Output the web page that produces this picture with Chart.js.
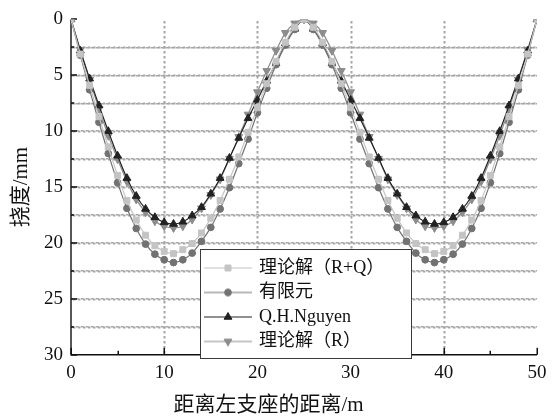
<!DOCTYPE html>
<html>
<head>
<meta charset="utf-8">
<script src="https://cdn.jsdelivr.net/npm/chart.js@4/dist/chart.umd.min.js"></script>
<style>
html,body{margin:0;padding:0;background:#fff;}
#wrap{width:556px;height:418px;}
</style>
</head>
<body>
<div id="wrap"><canvas id="c" width="556" height="418"></canvas></div>
<script>
// ---- data ----
const distance = [0,1,2,3,4,5,6,7,8,9,10,11,12,13,14,15,16,17,18,19,20,21,22,23,24,25,26,27,28,29,30,31,32,33,34,35,36,37,38,39,40,41,42,43,44,45,46,47,48,49,50];
const seriesNames = ['理论解（R+Q）', '有限元', 'Q.H.Nguyen', '理论解（R）'];
const theoryRQ = [0,3.1,5.9,8.7,11.4,13.95,16.2,17.95,19.3,20.25,20.75,20.95,20.6,20.05,19.1,17.8,16.2,14.3,12.3,10.1,7.9,5.75,3.75,2.05,0.7,0,0.7,2.05,3.75,5.75,7.9,10.1,12.3,14.3,16.2,17.8,19.1,20.05,20.6,20.95,20.75,20.25,19.3,17.95,16.2,13.95,11.4,8.7,5.9,3.1,0];
const fem = [0,3.2,6.3,9.2,12.0,14.6,16.9,18.7,20.1,21.0,21.5,21.75,21.5,20.9,19.85,18.6,16.95,15.05,12.9,10.7,8.35,6.15,4.05,2.3,0.9,0,0.9,2.3,4.05,6.15,8.35,10.7,12.9,15.05,16.95,18.6,19.85,20.9,21.5,21.75,21.5,21.0,20.1,18.7,16.9,14.6,12.0,9.2,6.3,3.2,0];
const nguyen = [0,2.8,5.3,7.7,10.0,12.2,14.2,15.8,16.95,17.7,18.15,18.3,18.1,17.55,16.8,15.6,14.2,12.4,10.6,8.85,7.2,5.5,3.9,2.15,0.85,0,0.85,2.15,3.9,5.5,7.2,8.85,10.6,12.4,14.2,15.6,16.8,17.55,18.1,18.3,18.15,17.7,16.95,15.8,14.2,12.2,10.0,7.7,5.3,2.8,0];
const theoryR = [0,2.7,5.4,8.0,10.4,12.5,14.5,16.1,17.25,18.05,18.5,18.65,18.5,17.9,16.9,15.7,14.3,12.45,10.5,8.5,6.5,4.6,2.8,1.2,0.35,0,0.35,1.2,2.8,4.6,6.5,8.5,10.5,12.45,14.3,15.7,16.9,17.9,18.5,18.65,18.5,18.05,17.25,16.1,14.5,12.5,10.4,8.0,5.4,2.7,0];
const xMinorTicks = [0,5,10,15,20,25,30,35,40,45,50];
const yMinorTicks = [0,2.5,5,7.5,10,12.5,15,17.5,20,22.5,25,27.5,30];
const xGridValues = [10,20,30,40];
const yGridValues = [2.5,5,7.5,10,12.5,15,17.5,20,22.5,25,27.5];
const xAxisTitle = '距离左支座的距离/m';
const yAxisTitle = '挠度/mm';

// ---- styles ----
const SERIF = "'Liberation Serif','Noto Sans CJK SC','Times New Roman',serif";
const styles = [
  {color:'#c4c4c4', point:'rect',     radius:4.2, rotation:0},
  {color:'#727272', point:'circle',   radius:3.4, rotation:0},
  {color:'#222222', point:'triangle', radius:4.5, rotation:0},
  {color:'#8c8c8c', point:'triangle', radius:4.5, rotation:180}
];
const values = [theoryRQ, fem, nguyen, theoryR];

function makeIcon(st){
  const cv = document.createElement('canvas');
  cv.width = 48; cv.height = 14;
  const g = cv.getContext('2d');
  g.strokeStyle = st.color; g.fillStyle = st.color; g.lineWidth = 1.2;
  g.beginPath(); g.moveTo(0, 7); g.lineTo(48, 7); g.stroke();
  g.lineWidth = 1;
  if (Chart.helpers && Chart.helpers.drawPoint) {
    Chart.helpers.drawPoint(g, {pointStyle: st.point, rotation: st.rotation, radius: st.radius, borderWidth: 1}, 24, 7);
  } else {
    g.beginPath(); g.arc(24, 7, st.radius, 0, Math.PI*2); g.fill();
  }
  return cv;
}
const legendIcons = styles.map(makeIcon);

const datasets = seriesNames.map((name, i) => ({
  label: name,
  data: values[i],
  borderColor: styles[i].color,
  backgroundColor: styles[i].color,
  borderWidth: 1.2,
  pointStyle: styles[i].point,
  pointRotation: styles[i].rotation,
  pointRadius: styles[i].radius,
  pointBorderWidth: 1,
  pointBackgroundColor: styles[i].color,
  pointBorderColor: styles[i].color,
  cubicInterpolationMode: 'monotone',
  fill: false
}));

const LEG = {left: 199.5, top: 252.5, width: 214, height: 108};
const BOX = {x: 200, y: 249, w: 211, h: 109};

// value -> pixel on the (reversed) y scale, from the scale's own range and pixel extent
function yPix(ys, v){
  const t = (v - ys.min) / (ys.max - ys.min);
  return ys.top + t * (ys.bottom - ys.top);
}

const framePlugin = {
  id: 'frame',
  afterLayout(chart){
    const lg = chart.legend;
    if (!lg) return;
    lg.left = LEG.left; lg.top = LEG.top;
    lg.width = LEG.width; lg.height = LEG.height;
    lg.right = LEG.left + LEG.width; lg.bottom = LEG.top + LEG.height;
  },
  beforeDatasetsDraw(chart){
    const ctx = chart.ctx, xs = chart.scales.x, ys = chart.scales.y;
    const L = xs.left, R = xs.right, T = ys.top, B = ys.bottom;
    ctx.save();
    // dotted grid (vertical)
    ctx.fillStyle = '#a6a6a6';
    xGridValues.forEach(v => {
      const px = Math.round(xs.getPixelForValue(v));
      for (let y = Math.round(T) + 2; y < B - 1; y += 5) ctx.fillRect(px - 0.5, y, 2, 2.5);
    });
    // dotted grid (horizontal)
    ctx.fillStyle = '#a6a6a6';
    yGridValues.forEach(v => {
      const py = Math.round(yPix(ys, v));
      for (let x = Math.round(L) + 2; x < R - 1; x += 5) ctx.fillRect(x, py - 0.5, 2.5, 2);
    });
    // inward tick marks
    ctx.fillStyle = '#111';
    xMinorTicks.forEach(v => {
      const px = Math.round(xs.getPixelForValue(v));
      const len = (v % 10 === 0) ? 7 : 4;
      ctx.fillRect(px - 0.5, B - len, 1.5, len);
    });
    yMinorTicks.forEach(v => {
      const py = Math.round(yPix(ys, v));
      const len = (v % 5 === 0) ? 6 : 3;
      ctx.fillRect(L, py - 0.75, len, 1.5);
    });
    // axis lines
    ctx.strokeStyle = '#111'; ctx.lineWidth = 1.4;
    ctx.beginPath();
    ctx.moveTo(L, T); ctx.lineTo(L, B); ctx.lineTo(R, B);
    ctx.stroke();
    // legend frame
    ctx.fillStyle = '#fff';
    ctx.fillRect(BOX.x, BOX.y, BOX.w, BOX.h);
    ctx.strokeStyle = '#3a3a3a'; ctx.lineWidth = 1;
    ctx.strokeRect(BOX.x + 0.5, BOX.y + 0.5, BOX.w, BOX.h);
    ctx.restore();
    if (chart.legend) chart.legend.draw();
  }
};

const yGridColor = c => (c.tick && (c.tick.value === 0 || c.tick.value === 30)) ? 'rgba(0,0,0,0)' : '#a6a6a6';

new Chart(document.getElementById('c'), {
  type: 'line',
  data: { labels: distance, datasets },
  plugins: [framePlugin],
  options: {
    responsive: false,
    animation: false,
    devicePixelRatio: 1,
    layout: { padding: { left: 0, right: 19, top: 13, bottom: 0 } },
    plugins: {
      tooltip: { enabled: false },
      title: {
        display: true, position: 'bottom', text: xAxisTitle, color: '#111',
        font: { family: SERIF, size: 21, weight: 'normal' },
        padding: { top: 0, bottom: 0 }
      },
      legend: {
        position: 'chartArea',
        align: 'start',
        labels: {
          usePointStyle: true,
          pointStyleWidth: 44,
          boxHeight: 18,
          padding: 6.5,
          color: '#111',
          font: { family: SERIF, size: 18 },
          generateLabels(chart){
            const items = Chart.defaults.plugins.legend.labels.generateLabels(chart);
            items.forEach(it => { it.pointStyle = legendIcons[it.datasetIndex]; it.rotation = 0; });
            return items;
          }
        }
      }
    },
    scales: {
      x: {
        type: 'linear', min: 0, max: 50,
        afterFit(s){ s.height = 38; },
        ticks: { stepSize: 10, padding: 7, color: '#111', font: { family: SERIF, size: 19 }, maxRotation: 0 },
        grid: { display: false, drawTicks: false },
        border: { display: false }
      },
      y: {
        type: 'linear', min: 0, max: 30, reverse: true,
        afterFit(s){ s.width = 71; },
        ticks: {
          stepSize: 2.5, autoSkip: false, padding: 8, color: '#111',
          font: { family: SERIF, size: 19 },
          callback: v => (v % 5 === 0) ? String(v) : ''
        },
        grid: { display: true, drawTicks: false, lineWidth: 1.5, color: yGridColor },
        border: { display: false, dash: [2.5, 2.5] },
        title: { display: true, text: yAxisTitle, color: '#111', font: { family: SERIF, size: 21 }, padding: { top: 9, bottom: 0 } }
      }
    }
  }
});
</script>
</body>
</html>
